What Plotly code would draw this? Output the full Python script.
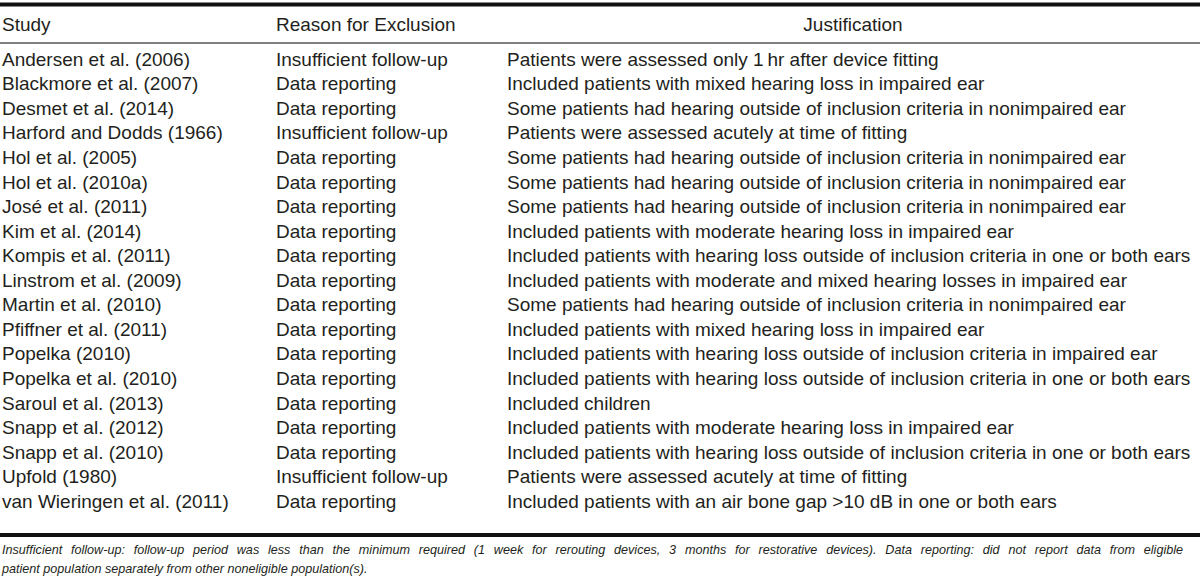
import plotly.graph_objects as go

studies = [
    "Andersen et al. (2006)", "Blackmore et al. (2007)", "Desmet et al. (2014)",
    "Harford and Dodds (1966)", "Hol et al. (2005)", "Hol et al. (2010a)",
    "José et al. (2011)", "Kim et al. (2014)", "Kompis et al. (2011)",
    "Linstrom et al. (2009)", "Martin et al. (2010)", "Pfiffner et al. (2011)",
    "Popelka (2010)", "Popelka et al. (2010)", "Saroul et al. (2013)",
    "Snapp et al. (2012)", "Snapp et al. (2010)", "Upfold (1980)",
    "van Wieringen et al. (2011)",
]
reasons = [
    "Insufficient follow-up", "Data reporting", "Data reporting",
    "Insufficient follow-up", "Data reporting", "Data reporting",
    "Data reporting", "Data reporting", "Data reporting",
    "Data reporting", "Data reporting", "Data reporting",
    "Data reporting", "Data reporting", "Data reporting",
    "Data reporting", "Data reporting", "Insufficient follow-up",
    "Data reporting",
]
justifications = [
    "Patients were assessed only 1\u2009hr after device fitting",
    "Included patients with mixed hearing loss in impaired ear",
    "Some patients had hearing outside of inclusion criteria in nonimpaired ear",
    "Patients were assessed acutely at time of fitting",
    "Some patients had hearing outside of inclusion criteria in nonimpaired ear",
    "Some patients had hearing outside of inclusion criteria in nonimpaired ear",
    "Some patients had hearing outside of inclusion criteria in nonimpaired ear",
    "Included patients with moderate hearing loss in impaired ear",
    "Included patients with hearing loss outside of inclusion criteria in one or both ears",
    "Included patients with moderate and mixed hearing losses in impaired ear",
    "Some patients had hearing outside of inclusion criteria in nonimpaired ear",
    "Included patients with mixed hearing loss in impaired ear",
    "Included patients with hearing loss outside of inclusion criteria in impaired ear",
    "Included patients with hearing loss outside of inclusion criteria in one or both ears",
    "Included children",
    "Included patients with moderate hearing loss in impaired ear",
    "Included patients with hearing loss outside of inclusion criteria in one or both ears",
    "Patients were assessed acutely at time of fitting",
    "Included patients with an air bone gap >10 dB in one or both ears",
]
headers = ["Study", "Reason for Exclusion", "Justification"]
footnote = [
    "Insufficient follow-up: follow-up period was less than the minimum required (1 week for rerouting devices, 3 months for restorative devices). Data reporting: did not report data from eligible",
    "patient population separately from other noneligible population(s).",
]

# layout constants (pixel units on x axis, row index on y axis)
W, H = 1200, 580
row_px = 24.56
first_row_px = 61
col_x = [2, 276, 507]
just_center = 853
y_top = -first_row_px / row_px
y_bot = y_top + H / row_px

rows = list(range(len(studies)))
FONT = "Liberation Sans, Arial, Helvetica, sans-serif"
TXT = "#231f20"
fs = 19.0

fig = go.Figure()
for x0, col in zip(col_x, [studies, reasons, justifications]):
    fig.add_trace(go.Scatter(
        x=[x0] * len(col), y=rows, text=col, mode="text",
        textposition="middle right", cliponaxis=False,
        textfont=dict(family=FONT, size=fs, color=TXT),
        hoverinfo="skip", showlegend=False,
    ))

hdr_row = (26 - first_row_px) / row_px
fig.add_trace(go.Scatter(
    x=col_x[:2], y=[hdr_row, hdr_row], text=headers[:2], mode="text",
    textposition="middle right", cliponaxis=False,
    textfont=dict(family=FONT, size=fs, color=TXT), hoverinfo="skip", showlegend=False,
))
fig.add_trace(go.Scatter(
    x=[just_center], y=[hdr_row], text=headers[2:], mode="text",
    textposition="middle center", cliponaxis=False,
    textfont=dict(family=FONT, size=fs, color=TXT), hoverinfo="skip", showlegend=False,
))

# footnote: first line is justified in the original, widen its word gaps
fn_text = [
    "<i>%s</i>" % footnote[0].replace(" ", "\u2002\u2009"),
    "<i>%s</i>" % footnote[1],
]
fn_rows = [(551 - first_row_px) / row_px, (570 - first_row_px) / row_px]
fig.add_trace(go.Scatter(
    x=[2, 2], y=fn_rows, text=fn_text, mode="text",
    textposition="middle right", cliponaxis=False,
    textfont=dict(family=FONT, size=12.6, color=TXT), hoverinfo="skip", showlegend=False,
))

def rule(ypx, width, color):
    yr = (ypx - first_row_px) / row_px
    fig.add_shape(type="line", xref="paper", yref="y", x0=0, x1=1, y0=yr, y1=yr,
                  line=dict(color=color, width=width))

rule(4.5, 4, "#111111")
rule(43, 1.5, "#555555")
rule(535, 4, "#111111")

fig.update_layout(
    width=W, height=H, margin=dict(l=0, r=0, t=0, b=0),
    paper_bgcolor="white", plot_bgcolor="white",
    xaxis=dict(range=[0, W], visible=False, fixedrange=True),
    yaxis=dict(range=[y_bot, y_top], visible=False, fixedrange=True),
)
fig.write_html("out.html", post_script="document.body.style.margin='0';",
               config={"displayModeBar": False})
